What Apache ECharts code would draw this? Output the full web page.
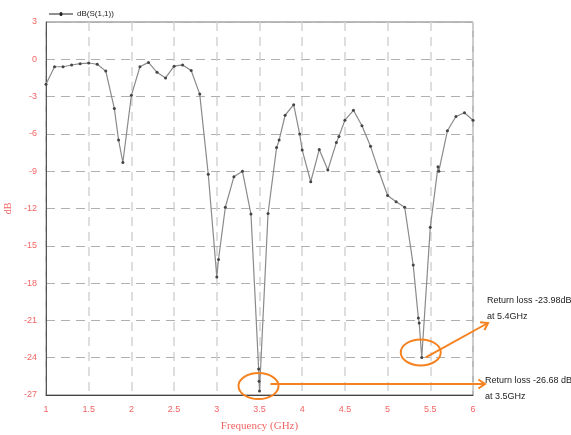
<!DOCTYPE html>
<html>
<head>
<meta charset="utf-8">
<script src="https://cdn.jsdelivr.net/npm/echarts@6/dist/echarts.min.js"></script>
<style>html,body{margin:0;padding:0;background:#fff;}#c{width:571px;height:435px;}</style>
</head>
<body>
<div id="c"></div>
<script>
var freq = [1.0,1.1,1.2,1.3,1.4,1.5,1.6,1.7,1.8,1.85,1.9,2.0,2.1,2.2,2.3,2.4,2.5,2.6,2.7,2.8,2.9,3.0,3.02,3.1,3.2,3.3,3.4,3.49,3.495,3.5,3.6,3.7,3.73,3.8,3.9,3.97,4.0,4.1,4.2,4.3,4.4,4.43,4.5,4.6,4.7,4.8,4.9,5.0,5.1,5.2,5.3,5.36,5.37,5.4,5.5,5.59,5.6,5.7,5.8,5.9,6.0];
var s11 = [-2.0,-0.6,-0.6,-0.46,-0.35,-0.3,-0.4,-0.95,-3.95,-6.5,-8.3,-2.9,-0.6,-0.25,-1.05,-1.5,-0.55,-0.45,-0.9,-2.8,-9.25,-17.5,-16.1,-11.9,-9.45,-9.0,-12.45,-24.9,-25.9,-26.68,-12.4,-7.1,-6.5,-4.5,-3.65,-6.0,-7.3,-9.85,-7.25,-8.9,-6.7,-6.2,-4.9,-4.1,-5.35,-7.0,-9.05,-10.95,-11.45,-11.9,-16.55,-20.8,-21.2,-23.98,-13.5,-8.65,-9.0,-5.75,-4.6,-4.3,-4.9];
var seriesName = 'dB(S(1,1))';
var xLabel = 'Frequency (GHz)';
var yLabel = 'dB';
var notes = [
  {x: 3.5, y: -26.68, l1: 'Return loss -26.68 dB', l2: 'at 3.5GHz'},
  {x: 5.4, y: -23.98, l1: 'Return loss -23.98dB', l2: 'at 5.4GHz'}
];

var red = '#f26464';
var sans = 'Liberation Sans, Arial, sans-serif';
var chart = echarts.init(document.getElementById('c'));
var data = freq.map(function(f,i){return [f, s11[i]];});
chart.setOption({
  animation: false,
  backgroundColor: '#fff',
  grid: {left: 46, right: 98, top: 22, bottom: 40, containLabel: false, outerBoundsMode: 'none',
    show: true, borderColor: '#777', borderWidth: 1},
  legend: {
    left: 44, top: 5, itemWidth: 24, itemHeight: 6, itemGap: 4,
    icon: 'path://M0,2.6L10.5,2.6A1.5,1.5,0,0,1,13.5,2.6L24,2.6L24,3.4L13.5,3.4A1.5,1.5,0,0,1,10.5,3.4L0,3.4Z',
    data: [seriesName],
    itemStyle: {color: '#222'},
    textStyle: {fontSize: 8, color: '#222', fontFamily: sans, padding: [0,0,0,-1]}
  },
  xAxis: {
    type: 'value', min: 1, max: 6, interval: 0.5,
    name: xLabel, nameLocation: 'middle', nameGap: 26,
    nameTextStyle: {color: red, fontSize: 11, fontFamily: 'Liberation Serif'},
    axisLine: {show: true, onZero: false, lineStyle: {color: '#444', width: 1}},
    axisTick: {show: false},
    axisLabel: {color: red, fontSize: 9, fontFamily: sans, margin: 10},
    splitLine: {show: true, lineStyle: {color: '#d4d4d4', type: [9, 6], width: 1.5}}
  },
  yAxis: {
    type: 'value', min: -27, max: 3, interval: 3,
    name: yLabel, nameLocation: 'middle', nameGap: 28,
    nameTextStyle: {color: red, fontSize: 10, fontFamily: 'Liberation Serif'},
    axisLine: {show: true, onZero: false, lineStyle: {color: '#555', width: 1}},
    axisTick: {show: false},
    axisLabel: {color: red, fontSize: 9, fontFamily: sans, margin: 9},
    splitLine: {show: true, lineStyle: {color: '#b0b0b0', type: [9, 6], width: 1}}
  },
  series: [{
    name: seriesName, type: 'line', data: data,
    symbol: 'circle', symbolSize: 3, showSymbol: true,
    lineStyle: {color: '#8a8a8a', width: 1.2},
    itemStyle: {color: '#444'},
    z: 3
  }]
});

var orange = '#f5821f';
var g = [];
notes.forEach(function(n, i){
  var p = chart.convertToPixel({seriesIndex: 0}, [n.x, n.y]);
  var cx = p[0] - 1, cy = p[1] - 5;
  g.push({type: 'ellipse', shape: {cx: cx, cy: cy, rx: 20, ry: 13},
    style: {fill: 'none', stroke: orange, lineWidth: 2}, z: 10});
  var tx, ty, sx, sy;
  if (i === 0) { sx = cx + 12; sy = cy - 2; tx = 485; ty = sy; }
  else { sx = p[0] + 4; sy = p[1]; tx = 488; ty = 323; }
  g.push({type: 'line', shape: {x1: sx, y1: sy, x2: tx, y2: ty},
    style: {stroke: orange, lineWidth: 2}, z: 10});
  var ang = Math.atan2(ty - sy, tx - sx);
  var L = 8, w = 0.6;
  g.push({type: 'polyline', shape: {points: [
      [tx - L*Math.cos(ang - w), ty - L*Math.sin(ang - w)], [tx, ty],
      [tx - L*Math.cos(ang + w), ty - L*Math.sin(ang + w)]]},
    style: {stroke: orange, lineWidth: 2, fill: 'none'}, z: 10});
  var lx = i === 0 ? 485 : 487;
  var ly = i === 0 ? 373 : 293;
  g.push({type: 'text', x: lx, y: ly, style: {text: n.l1 + '\n' + n.l2,
    fontSize: 9, lineHeight: 16, fill: '#222', fontFamily: sans}, z: 11});
});
chart.setOption({graphic: g});
</script>
</body>
</html>
